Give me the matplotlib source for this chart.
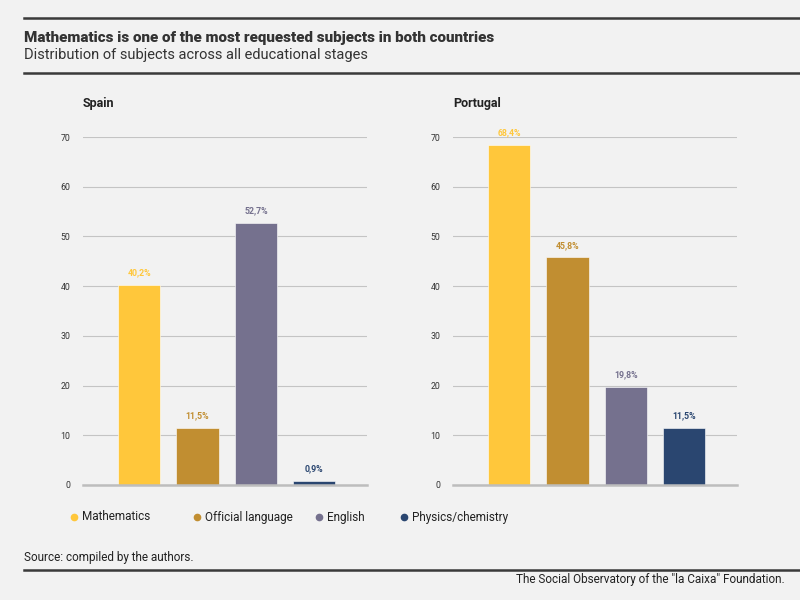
import matplotlib.pyplot as plt
from matplotlib.lines import Line2D

plt.rcParams['font.family'] = ['Roboto', 'DejaVu Sans']

subjects = ['Mathematics', 'Official language', 'English', 'Physics/chemistry']
colors = ['#ffc73b', '#c18e31', '#75718e', '#2a4670']
spain = [40.2, 11.5, 52.7, 0.9]
portugal = [68.4, 45.8, 19.8, 11.5]
countries = ['Spain', 'Portugal']
yticks = [0, 10, 20, 30, 40, 50, 60, 70]

bg = '#f2f2f2'
fig = plt.figure(figsize=(8, 6), dpi=100, facecolor=bg)

# header and footer rules
for y in [1 - 18 / 600, 1 - 73 / 600, 1 - 570 / 600]:
    fig.add_artist(Line2D([24 / 800, 1], [y, y], color='#3a3a3a', lw=1.8))

fig.text(24 / 800, 1 - 38 / 600, 'Mathematics is one of the most requested subjects in both countries',
         fontsize=10.9, fontweight='heavy', color='#333333', va='center')
fig.text(24 / 800, 1 - 55 / 600, 'Distribution of subjects across all educational stages',
         fontsize=10.5, color='#333333', va='center')
fig.text(24 / 800, 1 - 558 / 600, 'Source: compiled by the authors.',
         fontsize=8.5, color='#222222', va='center')
fig.text(785 / 800, 1 - 580 / 600, 'The Social Observatory of the "la Caixa" Foundation.',
         fontsize=8.5, color='#222222', va='center', ha='right')

lefts = [83 / 800, 453 / 800]
for left, name, vals in zip(lefts, countries, [spain, portugal]):
    ax = fig.add_axes([left, 1 - 485 / 600, 284 / 800, 348 / 600])
    ax.set_facecolor(bg)
    x = range(len(vals))
    ax.bar(x, vals, width=0.72, color=colors, edgecolor='white', linewidth=0.4, zorder=3)
    for xi, v, c in zip(x, vals, colors):
        ax.text(xi, v + 1.5, f'{v:.1f}%'.replace('.', ','), ha='center', va='bottom',
                fontsize=6.3, fontweight='bold', color=c, clip_on=False)
    ax.set_xlim(-0.96, 3.9)
    ax.set_ylim(0, 70)
    ax.set_yticks(yticks)
    ax.set_yticklabels([str(t) for t in yticks], fontsize=6.3, color='#333333')
    ax.tick_params(axis='y', length=0, pad=9)
    ax.set_xticks([])
    ax.grid(axis='y', color='#c4c4c4', lw=0.8, zorder=0)
    for s in ['top', 'right', 'left']:
        ax.spines[s].set_visible(False)
    ax.spines['bottom'].set_color('#bdbdbd')
    ax.spines['bottom'].set_linewidth(1.8)
    ax.spines['bottom'].set_zorder(4)
    fig.text(left, 1 - 104 / 600, name, fontsize=9, fontweight='bold', color='#222222', va='center')

# legend
legend_x = [74, 197, 319, 404]
for lx, s, c in zip(legend_x, subjects, colors):
    fig.add_artist(Line2D([lx / 800], [1 - 517 / 600], marker='o', markersize=4.5,
                          color=c, linestyle='none'))
    fig.text((lx + 8) / 800, 1 - 517 / 600, s, fontsize=8.5, color='#222222', va='center')

fig.savefig('out.png', dpi=100, facecolor=bg)
